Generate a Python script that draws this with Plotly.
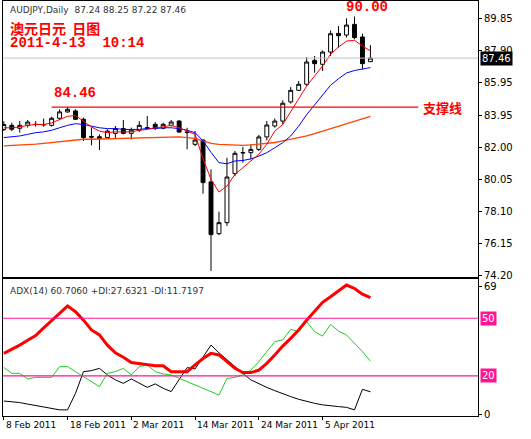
import plotly.graph_objects as go
from plotly.subplots import make_subplots

# 数据
dates = ['8 Feb 2011', '18 Feb 2011', '2 Mar 2011', '14 Mar 2011', '24 Mar 2011', '5 Apr 2011']
date_idx = [0, 8, 16, 24, 32, 40]

opn = [83.1, 83.35, 83.17, 83.35, 83.41, 83.37, 83.35, 83.78, 84.17, 84.23,
       83.72, 82.67, 82.65, 82.60, 82.86, 83.15, 82.86, 83.06, 83.17, 83.41,
       83.17, 83.35, 83.61, 82.94, 82.19, 82.45, 79.89, 76.73, 77.40, 80.40,
       81.66, 81.68, 81.88, 82.64, 83.31, 83.61, 84.78, 85.49, 85.86, 87.32,
       87.08, 87.83, 88.97, 88.87, 89.52, 88.75, 87.24]
high = [83.6, 83.51, 83.61, 83.68, 83.61, 83.76, 83.88, 84.33, 84.47, 84.33,
        83.82, 83.21, 82.80, 83.11, 83.31, 83.68, 83.21, 83.61, 83.92, 83.55,
        83.51, 83.68, 83.68, 83.2, 83.0, 82.5, 80.66, 78.07, 81.37, 81.78,
        82.03, 82.19, 82.76, 83.61, 83.77, 84.88, 85.69, 86.06, 87.52, 87.59,
        87.93, 89.15, 89.42, 89.89, 90.00, 88.95, 88.25]
low = [83.0, 83.0, 82.90, 83.21, 83.27, 83.27, 83.27, 83.68, 84.12, 83.68,
       82.39, 82.13, 81.84, 82.60, 82.54, 82.80, 82.49, 82.94, 83.11, 83.06,
       83.11, 83.27, 82.90, 81.88, 82.08, 79.17, 74.45, 76.63, 77.20, 80.25,
       81.07, 81.27, 81.78, 82.43, 83.21, 83.41, 84.68, 85.45, 85.76, 86.57,
       86.67, 87.59, 88.10, 88.71, 88.61, 86.77, 87.22]
close = [83.4, 83.11, 83.35, 83.55, 83.40, 83.40, 83.78, 84.17, 84.33, 83.72,
         82.60, 82.63, 82.55, 83.00, 83.15, 82.86, 83.06, 83.35, 83.20, 83.17,
         83.41, 83.55, 82.94, 82.92, 82.45, 79.85, 76.67, 77.40, 80.19, 81.64,
         81.68, 81.88, 82.64, 83.37, 83.61, 84.70, 85.49, 85.86, 87.22, 87.12,
         87.83, 88.95, 88.83, 89.48, 88.71, 87.12, 87.46]

ma_red = [83.2, 83.2, 83.25, 83.35, 83.4, 83.4, 83.5, 83.7, 83.9, 83.95,
          83.6, 83.25, 83.0, 82.9, 82.95, 82.95, 82.95, 83.05, 83.1, 83.2,
          83.25, 83.35, 83.2, 83.0, 82.8, 81.3, 80.05, 79.27, 79.64, 80.35,
          80.76, 81.17, 81.58, 82.19, 83.0, 83.4, 84.2, 84.94, 85.75, 86.37,
          86.98, 87.69, 88.14, 88.5, 88.55, 88.2, 87.9]
ma_blue = [82.6, 82.65, 82.7, 82.8, 82.9, 82.95, 83.05, 83.2, 83.35, 83.45,
           83.4, 83.3, 83.2, 83.15, 83.15, 83.1, 83.1, 83.1, 83.15, 83.15,
           83.2, 83.2, 83.15, 83.05, 82.9, 82.4, 81.7, 81.07, 81.0, 81.17,
           81.2, 81.3, 81.47, 81.68, 81.98, 82.29, 82.7, 83.3, 84.0, 84.6,
           85.2, 85.8, 86.2, 86.55, 86.7, 86.77, 86.88]
ma_orange = [82.1, 82.12, 82.14, 82.16, 82.2, 82.25, 82.3, 82.35, 82.4, 82.45,
             82.5, 82.5, 82.51, 82.52, 82.53, 82.54, 82.55, 82.56, 82.57, 82.58,
             82.59, 82.6, 82.65, 82.6, 82.55, 82.4, 82.25, 82.18, 82.15, 82.13,
             82.13, 82.15, 82.2, 82.25, 82.3, 82.4, 82.5, 82.6, 82.7, 82.85,
             83.0, 83.15, 83.3, 83.45, 83.6, 83.75, 83.9]

adx = [31.7, 33.8, 36, 38.5, 41, 45, 49, 52.5, 56.4, 53.4,
       49, 43.9, 41.3, 36, 32, 29.7, 26.9, 26.4, 26, 25.3,
       25.3, 22.2, 22.2, 22.2, 25.7, 29, 31.7, 30.9, 27.4, 23.9,
       21.7, 21.7, 23, 26.5, 30.9, 35.5, 39.5, 43.9, 49, 53.9,
       58.3, 61.2, 64.3, 67.3, 65.5, 62.5, 60.7]
pdi = [24.4, 21.3, 21.3, 18.4, 19.2, 19.2, 19.2, 24.8, 24.8, 22.2,
       19.6, 17, 14.4, 21.3, 22.2, 23.9, 20.5, 24.8, 25.7, 22.2,
       21, 20.5, 18.7, 17, 15.3, 13.5, 11.8, 10, 18.7, 19.2,
       20.5, 23, 27.4, 32.6, 37.8, 38.7, 44.2, 43, 48.2, 43,
       40.7, 46.8, 43.3, 41.3, 36.9, 32.6, 27.6]
mdi = [6.9, 6.6, 6.1, 5.3, 4.5, 4, 3.1, 2.3, 2.3, 10.9,
       22.2, 22.7, 23.9, 20.5, 17.9, 16.1, 18.4, 16.1, 14, 15.8,
       13.5, 11.8, 17.9, 24.3, 23.6, 30, 36, 32, 28.3, 24.8,
       21.3, 17.9, 15.8, 14, 12.3, 10.6, 9.2, 7.8, 6.6, 5.7,
       4.9, 4.3, 4, 3.6, 2.3, 13, 11.7]

price_ticks = [89.85, 87.90, 85.95, 83.95, 82.00, 80.05, 78.10, 76.15, 74.20]
support = 84.46
last = 87.46

x = list(range(len(close)))
font = 'DejaVu Sans'
cjk = 'Noto Sans CJK SC'

fig = make_subplots(rows=2, cols=1, shared_xaxes=True)

fig.add_trace(go.Scatter(x=x, y=ma_orange, mode='lines', line=dict(color='#ff4500', width=1.3)), 1, 1)
fig.add_trace(go.Scatter(x=x, y=ma_blue, mode='lines', line=dict(color='#0000ff', width=1)), 1, 1)
fig.add_trace(go.Scatter(x=x, y=ma_red, mode='lines', line=dict(color='#ff0000', width=1)), 1, 1)
fig.add_trace(go.Candlestick(x=x, open=opn, high=high, low=low, close=close,
                             increasing=dict(fillcolor='white', line=dict(color='black', width=1)),
                             decreasing=dict(fillcolor='black', line=dict(color='black', width=1)),
                             whiskerwidth=0), 1, 1)

fig.add_trace(go.Scatter(x=x, y=mdi, mode='lines', line=dict(color='black', width=1)), 2, 1)
fig.add_trace(go.Scatter(x=x, y=pdi, mode='lines', line=dict(color='#22cc22', width=1)), 2, 1)
fig.add_trace(go.Scatter(x=x, y=adx, mode='lines', line=dict(color='#ff0000', width=3)), 2, 1)

# 线
fig.add_hline(y=last, line=dict(color='#c0c0c0', width=1), row=1, col=1)
fig.add_shape(type='line', x0=6, x1=52, y0=support, y1=support,
              line=dict(color='red', width=1.3), xref='x', yref='y')
for lv in [50, 20]:
    fig.add_hline(y=lv, line=dict(color='#ff1493', width=1.2), row=2, col=1)

fig.update_xaxes(range=[-0.1, 59.5], showgrid=False, rangeslider_visible=False,
                 showline=True, linecolor='black', mirror=True,
                 showticklabels=False, zeroline=False)
fig.update_xaxes(tickvals=date_idx, ticks='outside', ticklen=3, tickcolor='black', row=2, col=1)
fig.update_yaxes(side='right', showgrid=False, showline=True, linecolor='black', mirror=True,
                 zeroline=False, ticks='outside', ticklen=3, tickcolor='black', automargin=False,
                 tickfont=dict(family=font, size=10, color='black'))
fig.update_yaxes(range=[74.08, 90.95], tickvals=price_ticks, domain=[0.335, 1],
                 ticktext=['%.2f' % v for v in price_ticks], row=1, col=1)
fig.update_yaxes(range=[-0.9, 70.4], tickvals=[0, 66.4], ticktext=['0', '69'],
                 domain=[0, 0.33], row=2, col=1)

ann = [
    dict(x=0.01, y=0.996, xref='paper', yref='paper', text='AUDJPY,Daily  87.24 88.25 87.22 87.46',
         font=dict(family=font, size=9, color='#333333')),
    dict(x=0.01, y=0.965, xref='paper', yref='paper', text='<b>澳元日元  日图</b>',
         font=dict(family=cjk, size=14, color='red')),
    dict(x=0.01, y=0.922, xref='paper', yref='paper', text='<b>2011-4-13  10:14</b>',
         font=dict(family='Liberation Mono', size=14, color='red')),
    dict(x=6, y=support + 0.25, xref='x', yref='y', text='<b>84.46</b>', yanchor='bottom',
         font=dict(family='Liberation Mono', size=14, color='red')),
    dict(x=42.7, y=90.0, xref='x', yref='y', text='<b>90.00</b>', yanchor='bottom',
         font=dict(family='Liberation Mono', size=14, color='red')),
    dict(x=52.3, y=support, xref='x', yref='y', text='<b>支撑线</b>', yanchor='middle',
         font=dict(family=cjk, size=13, color='red')),
    dict(x=1.005, y=last, xref='paper', yref='y', text='87.46', bgcolor='black', yanchor='middle',
         font=dict(family=font, size=10, color='white')),
    dict(x=0.01, y=0.318, xref='paper', yref='paper', text='ADX(14) 60.7060 +DI:27.6321 -DI:11.7197',
         font=dict(family=font, size=9, color='#333333')),
]
for lv in [50, 20]:
    ann.append(dict(x=1.005, y=lv, xref='paper', yref='y2', text=str(lv), bgcolor='#ff1493',
                    yanchor='middle', font=dict(family=font, size=10, color='white')))
for d, i in zip(dates, date_idx):
    ann.append(dict(x=i, y=-0.005, xref='x2', yref='paper', text=d, yanchor='top',
                    font=dict(family=font, size=9, color='black')))
for a in ann:
    a.setdefault('xanchor', 'left')
    a.setdefault('yanchor', 'top')
    a['showarrow'] = False
    fig.add_annotation(**a)

fig.update_layout(width=531, height=439,
                  margin=dict(l=3, r=53, t=1, b=23, autoexpand=False),
                  paper_bgcolor='white', plot_bgcolor='white', showlegend=False)

fig.write_html("out.html", config={'displayModeBar': False},
               post_script="document.body.style.margin='0';")
